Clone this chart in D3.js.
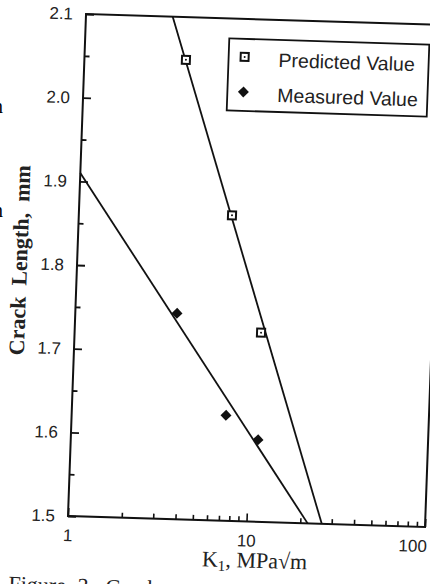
<!DOCTYPE html>
<html><head><meta charset="utf-8">
<script src="https://cdn.jsdelivr.net/npm/d3@7"></script>
<style>body{margin:0;background:#fff}svg{display:block}</style>
</head><body>
<svg id="c" width="430" height="584"></svg>
<script>
// ---- data ----
const predictedK = [3.70, 7.20, 11.05];
const predictedLen = [2.049, 1.865, 1.726];
const measuredK = [3.71, 7.31, 11.17];
const measuredLen = [1.746, 1.626, 1.598];
const predictedFitK = [3.06, 26.4];
const predictedFitLen = [2.1, 1.5];
const measuredFitK = [1, 22.0];
const measuredFitLen = [1.91, 1.5];
const xTickValues = [1,2,3,4,5,6,7,8,9,10,20,30,40,50,60,70,80,90,100];
const xTickLabels = {1:"1", 10:"10", 100:"100"};
const yTickValues = [1.5,1.55,1.6,1.65,1.7,1.75,1.8,1.85,1.9,1.95,2.0,2.05,2.1];
const yTickLabels = {"1.5":"1.5","1.6":"1.6","1.7":"1.7","1.8":"1.8","1.9":"1.9","2":"2.0","2.1":"2.1"};
const legendLabels = ["Predicted Value", "Measured Value"];
const xTitle = "K";
const xTitleSub = "1";
const xTitleRest = ", MPa\u221Am";
const yTitle = "Crack  Length,  mm";
const caption = "Figure 3. Crack";

const W = 357, H = 502;
const svg = d3.select("#c");
const sans = "'Liberation Sans', Arial, Helvetica, sans-serif";
const serif = "'Liberation Serif', 'Times New Roman', Times, serif";

// page fragments at left edge
svg.append("text").attr("x", -7).attr("y", 113).attr("font-family", serif).attr("font-size", 20).text("n");
svg.append("text").attr("x", -7).attr("y", 217).attr("font-family", serif).attr("font-size", 20).text("n");

const g = svg.append("g").attr("transform", "matrix(1,0.0308,-0.0359,1,68,516)");

const x = d3.scaleLog().domain([1, 100]).range([0, W]);
const y = d3.scaleLinear().domain([1.5, 2.1]).range([0, -H]);

const isMajorY = d => Math.abs(Math.round(d * 10) - d * 10) < 1e-6;
const isMajorX = d => d === 1 || d === 10 || d === 100;

// Y axis
const yAxis = d3.axisLeft(y).tickValues(yTickValues).tickSizeInner(-8).tickSizeOuter(0).tickPadding(13)
  .tickFormat(d => isMajorY(d) ? (yTickLabels[String(+d.toFixed(2))] || "") : "");
const ya = g.append("g").call(yAxis);
ya.select(".domain").remove();
ya.selectAll(".tick line").attr("stroke", "#111").attr("stroke-width", 1.8)
  .attr("x2", d => isMajorY(d) ? 8 : 5);
ya.selectAll(".tick text").attr("font-family", sans).attr("font-size", 17).attr("fill", "#222");

// X axis
const xAxis = d3.axisBottom(x).tickValues(xTickValues).tickSizeInner(-5).tickSizeOuter(0).tickPadding(13)
  .tickFormat(d => xTickLabels[d] || "");
const xa = g.append("g").call(xAxis);
xa.select(".domain").remove();
xa.selectAll(".tick line").attr("stroke", "#111").attr("stroke-width", 1.6)
  .attr("y2", d => isMajorX(d) ? -8 : -5);
xa.selectAll(".tick text").attr("font-family", sans).attr("font-size", 17).attr("fill", "#222")
  .attr("text-anchor", d => d === 100 ? "end" : "middle")
  .attr("dx", d => d === 100 ? 2 : 0);

// frame
g.append("rect").attr("x", 0).attr("y", -H).attr("width", W).attr("height", H)
  .attr("fill", "none").attr("stroke", "#111").attr("stroke-width", 2);

// fit lines
const line = d3.line().x(d => x(d[0])).y(d => y(d[1]));
g.append("path").datum(d3.zip(predictedFitK, predictedFitLen)).attr("d", line)
  .attr("fill", "none").attr("stroke", "#111").attr("stroke-width", 1.8);
g.append("path").datum(d3.zip(measuredFitK, measuredFitLen)).attr("d", line)
  .attr("fill", "none").attr("stroke", "#111").attr("stroke-width", 1.8);

// markers
const sq = d3.symbol().type(d3.symbolSquare).size(64);
const dia = d3.symbol().type(d3.symbolSquare).size(60);
function drawSquare(sel) {
  sel.append("path").attr("d", sq()).attr("fill", "#fff").attr("stroke", "#111").attr("stroke-width", 2);
  sel.append("circle").attr("r", 1).attr("fill", "#111");
}
function drawDiamond(sel) {
  sel.append("path").attr("d", dia()).attr("transform", "rotate(45)").attr("fill", "#111");
}
d3.zip(predictedK, predictedLen).forEach(d => {
  drawSquare(g.append("g").attr("transform", `translate(${x(d[0])},${y(d[1])})`));
});
d3.zip(measuredK, measuredLen).forEach(d => {
  drawDiamond(g.append("g").attr("transform", `translate(${x(d[0])},${y(d[1])})`));
});

// legend
const lg = g.append("g").attr("transform", "translate(144,-482)");
lg.append("rect").attr("width", 200).attr("height", 72).attr("fill", "#fff")
  .attr("stroke", "#111").attr("stroke-width", 1.8);
drawSquare(lg.append("g").attr("transform", "translate(16,18)"));
drawDiamond(lg.append("g").attr("transform", "translate(16,53)"));
lg.selectAll("text.lab").data(legendLabels).enter().append("text").attr("class", "lab")
  .attr("x", 50).attr("y", (d, i) => 27 + i * 35)
  .attr("font-family", sans).attr("font-size", 19.5).attr("fill", "#222").text(d => d);

// axis titles
g.append("text").attr("transform", "translate(-50,-254) rotate(-90)")
  .attr("text-anchor", "middle").attr("font-family", serif).attr("font-weight", "bold")
  .attr("font-size", 22).attr("fill", "#222").style("white-space", "pre").text(yTitle);
const xt = g.append("text").attr("x", 188).attr("y", 46).attr("text-anchor", "middle")
  .attr("font-family", serif).attr("font-size", 22).attr("fill", "#222");
xt.append("tspan").text(xTitle);
xt.append("tspan").attr("font-size", 15).attr("dy", 4).text(xTitleSub);
xt.append("tspan").attr("dy", -4).text(xTitleRest);

// caption (cut off at the bottom of the page)
g.append("text").attr("x", -57).attr("y", 77).attr("font-family", serif).attr("font-size", 22)
  .attr("fill", "#222").style("word-spacing", "6px").text(caption);
</script>
</body></html>
